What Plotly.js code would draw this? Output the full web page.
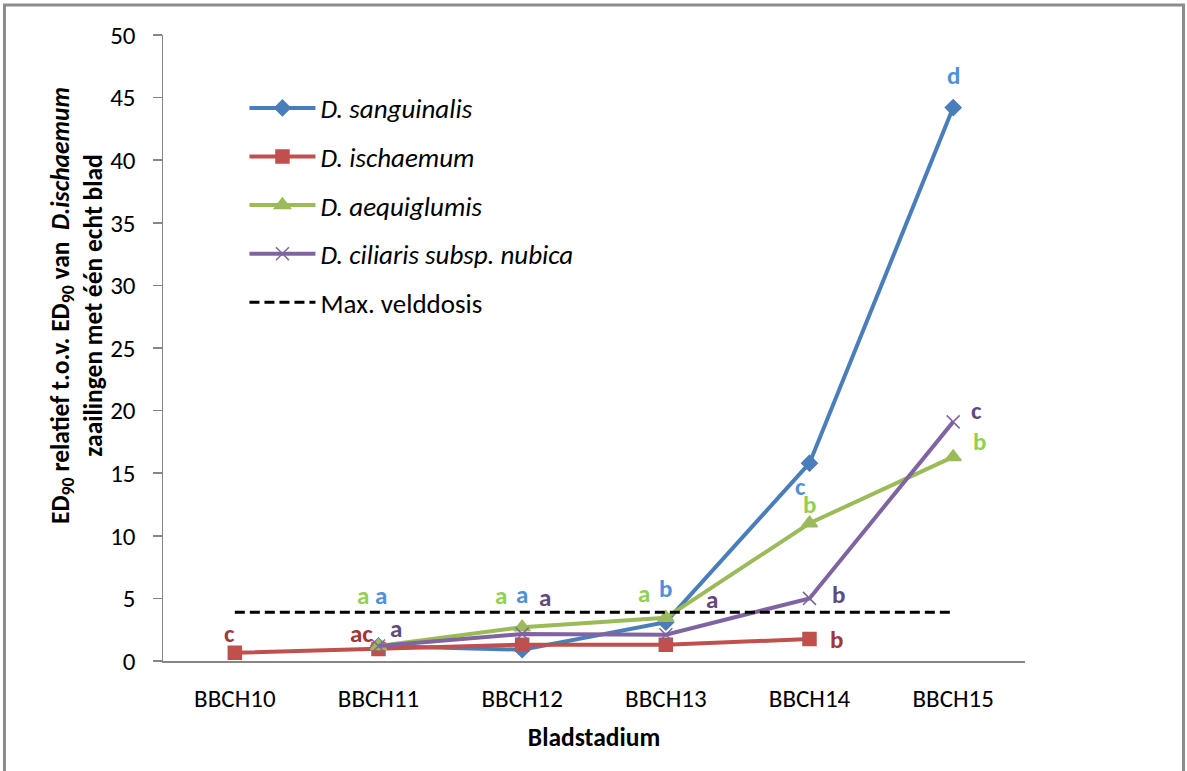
<!DOCTYPE html>
<html>
<head>
<meta charset="utf-8">
<script src="https://cdn.plot.ly/plotly-3.0.1.min.js"></script>
<style>html,body{margin:0;padding:0;background:#fff;}#chart{width:1187px;height:771px;}</style>
</head>
<body>
<div id="chart"></div>
<script>
const categories = ["BBCH10", "BBCH11", "BBCH12", "BBCH13", "BBCH14", "BBCH15"];
const sanguinalis = [null, 1.2, 0.9, 3.1, 15.8, 44.2];
const ischaemum = [0.65, 0.95, 1.3, 1.3, 1.75, null];
const aequiglumis = [null, 1.2, 2.7, 3.45, 11.0, 16.3];
const ciliaris = [null, 1.2, 2.15, 2.1, 5.0, 19.1];
const maxVelddosis = [3.9, 3.9, 3.9, 3.9, 3.9, 3.9];

const yTitle = "<b>ED<sub>90</sub> relatief t.o.v. ED<sub>90</sub> van  <i>D.ischaemum</i><br>zaailingen met één echt blad</b>";
const xTitle = "<b>Bladstadium</b>";

// significance letters: [text, x (category index), y (value), series]
const letters = [
  ["d", 5.0, 46.8, "s"],
  ["c", 3.94, 13.9, "s"],
  ["c", 5.16, 20.0, "c"],
  ["b", 5.18, 17.5, "a"],
  ["b", 4.0, 12.5, "a"],
  ["b", 4.2, 5.35, "c"],
  ["b", 4.19, 1.7, "i"],
  ["a", 2.85, 5.4, "a"],
  ["b", 3.0, 5.8, "s"],
  ["a", 3.32, 4.9, "c"],
  ["ab", 3.0, -1.2, "i"],
  ["a", 1.85, 5.2, "a"],
  ["a", 2.0, 5.3, "s"],
  ["a", 2.16, 5.1, "c"],
  ["ab", 2.0, -0.95, "i"],
  ["a", 0.89, 5.2, "a"],
  ["a", 1.02, 5.2, "s"],
  ["ac", 0.88, 2.2, "i"],
  ["a", 1.12, 2.6, "c"],
  ["c", -0.04, 2.2, "i"]
];

const FONT = "Carlito, 'Liberation Sans Narrow', 'DejaVu Sans Condensed', 'Liberation Sans', sans-serif";
const letterColors = {s: "#4F8FDB", i: "#A0373A", a: "#92D050", c: "#604A7B"};

const xIdx = categories.map((c, i) => i);

function line(name, y, color, symbol, size) {
  return {
    type: "scatter", mode: "lines+markers", name: name, x: xIdx, y: y,
    line: {color: color, width: 4},
    marker: {symbol: symbol, size: size, color: color, line: {color: color, width: 1.5}},
    legendgroup: name, connectgaps: false
  };
}

const traces = [
  line("<i>D. sanguinalis</i>", sanguinalis, "#4A7EBB", "diamond", 12),
  line("<i>D. ischaemum</i>", ischaemum, "#C0504D", "square", 13),
  line("<i>D. aequiglumis</i>", aequiglumis, "#9BBB59", "triangle-up", 14),
  line("<i>D. ciliaris subsp. nubica</i>", ciliaris, "#8064A2", "x-thin-open", 13),
  {type: "scatter", mode: "lines", name: "Max. velddosis", x: xIdx, y: maxVelddosis,
   line: {color: "#000000", width: 3, dash: "10px,5px"}, legendgroup: "veld"}
];

const annotations = letters.map(l => ({
  text: "<b>" + l[0] + "</b>", x: l[1], y: l[2], xref: "x", yref: "y",
  showarrow: false, font: {family: FONT, size: 25, color: letterColors[l[3]]}
}));
annotations.push({
  text: yTitle, xref: "paper", yref: "paper", x: -0.0998, y: 0.5687,
  xanchor: "center", yanchor: "middle", textangle: -90, showarrow: false,
  font: {family: FONT, size: 25.5, color: "#000"}
});

const layout = {
  width: 1187, height: 771,
  margin: {l: 163, r: 162, t: 35, b: 110},
  paper_bgcolor: "#ffffff", plot_bgcolor: "#ffffff",
  font: {family: FONT, size: 24, color: "#000"},
  showlegend: true,
  legend: {
    x: 0.0945, y: 0.922, xanchor: "left", yanchor: "top",
    bgcolor: "rgba(0,0,0,0)", traceorder: "grouped", tracegroupgap: 10.5,
    itemwidth: 66, font: {family: FONT, size: 27, color: "#000"}
  },
  xaxis: {
    range: [-0.5, 5.5], tickmode: "array", tickvals: xIdx, ticktext: categories,
    showgrid: false, zeroline: false, showline: true, linecolor: "#868686", linewidth: 1.5,
    ticks: "", ticklabelstandoff: 14, tickfont: {family: FONT, size: 25, color: "#000"},
    title: {text: xTitle, font: {family: FONT, size: 25.5, color: "#000"}, standoff: 15}
  },
  yaxis: {
    range: [0, 50], dtick: 5, tick0: 0,
    showgrid: false, zeroline: false, showline: true, linecolor: "#868686", linewidth: 1.5,
    ticks: "outside", ticklen: 9, tickcolor: "#868686", tickwidth: 1.5, ticklabelstandoff: 12,
    tickfont: {family: FONT, size: 25, color: "#000"}
  },
  annotations: annotations,
  shapes: [{type: "rect", xref: "paper", yref: "paper", x0: -0.1839, x1: 1.1839, y0: -0.19, y1: 1.0479,
            line: {color: "#8C8C8C", width: 3}, fillcolor: "rgba(0,0,0,0)", layer: "below"}]
};

Plotly.newPlot("chart", traces, layout, {displayModeBar: false, staticPlot: true});
</script>
</body>
</html>
